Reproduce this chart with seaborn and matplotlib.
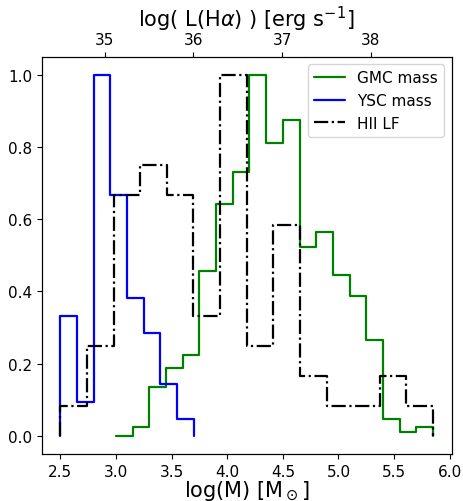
import numpy as np
import matplotlib
matplotlib.use("Agg")
import matplotlib.pyplot as plt
import seaborn as sns

# ---- data (normalised histograms) ----
gmc_edges = np.round(np.arange(3.0, 5.85 + 1e-9, 0.15), 2)
gmc_vals = [0.0, 0.024, 0.135, 0.189, 0.225, 0.456, 0.643, 0.732, 1.0,
            0.811, 0.876, 0.522, 0.566, 0.445, 0.388, 0.267, 0.047, 0.012, 0.024]

ysc_edges = np.round(np.arange(2.5, 3.7 + 1e-9, 0.15), 2)
ysc_vals = [0.333, 0.095, 1.0, 0.667, 0.381, 0.286, 0.143, 0.048]

hii_edges = np.round(np.arange(34.5, 38.7 + 1e-9, 0.3), 2)
hii_vals = [0.083, 0.25, 0.667, 0.75, 0.667, 0.333, 1.0, 0.25, 0.583,
            0.167, 0.083, 0.083, 0.167, 0.083]

top_ticks = [35, 36, 37, 38]
bottom_ticks = [2.5, 3.0, 3.5, 4.0, 4.5, 5.0, 5.5, 6.0]
y_ticks = [0.0, 0.2, 0.4, 0.6, 0.8, 1.0]

sns.set_style("ticks")
plt.rcParams["font.family"] = ["DejaVu Sans"]
plt.rcParams["mathtext.fontset"] = "dejavusans"
for k in ["text.color", "axes.labelcolor", "xtick.color", "ytick.color", "axes.edgecolor"]:
    plt.rcParams[k] = "black"


def step_xy(edges, vals):
    edges = np.asarray(edges, float)
    vals = np.asarray(vals, float)
    x = np.concatenate([edges[:1], edges, edges[-1:]])
    y = np.concatenate([[0.0], vals, vals[-1:], [0.0]])
    return x, y


fig = plt.figure(figsize=(4.64, 5.02), dpi=100)
ax = fig.add_axes([0.0899, 0.0936, 0.8836, 0.7914])

gx, gy = step_xy(gmc_edges, gmc_vals)
yx, yy = step_xy(ysc_edges, ysc_vals)
hx, hy = step_xy(hii_edges, hii_vals)

sns.lineplot(x=gx, y=gy, sort=False, estimator=None, drawstyle="steps-post",
             color="green", lw=1.6, label="GMC mass", legend=False, ax=ax)
sns.lineplot(x=yx, y=yy, sort=False, estimator=None, drawstyle="steps-post",
             color="blue", lw=1.6, label="YSC mass", legend=False, ax=ax)

ax2 = ax.twiny()
sns.lineplot(x=hx, y=hy, sort=False, estimator=None, drawstyle="steps-post",
             color="black", lw=1.6, linestyle="-.", label="HII LF", legend=False, ax=ax2)

ax.set_xticks(bottom_ticks)
ax.set_yticks(y_ticks)
ax2.set_xticks(top_ticks)
ax.set_ylim(-0.05, 1.05)

for a in (ax, ax2):
    a.tick_params(labelsize=11, length=3.5, width=0.8, direction="out",
                  color="black", labelcolor="black")
    for s in a.spines.values():
        s.set_color("black")
        s.set_linewidth(0.8)

ax.set_xlabel(r"log(M) [M$_\odot$]", fontsize=15, labelpad=0, color="black")
ax.set_ylabel("")
ax2.set_xlabel(r"log( L(H$\alpha$) ) [erg s$^{-1}$]", fontsize=15, labelpad=4, color="black")
ax2.set_ylabel("")

h1, l1 = ax.get_legend_handles_labels()
h2, l2 = ax2.get_legend_handles_labels()
leg = ax2.legend(h1 + h2, l1 + l2, loc="upper right", fontsize=11)
for t in leg.get_texts():
    t.set_color("black")

fig.savefig("out.png", dpi=100)
